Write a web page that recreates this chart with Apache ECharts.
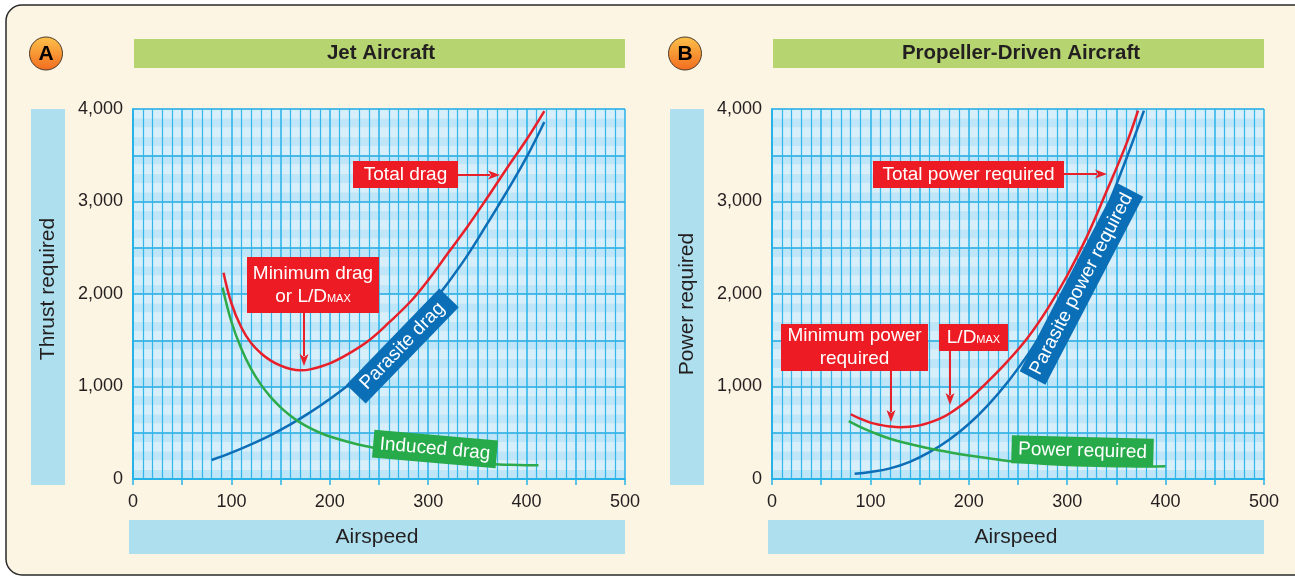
<!DOCTYPE html>
<html>
<head>
    <title>Drag and power curves</title>
    <script src="https://cdn.jsdelivr.net/npm/echarts@6/dist/echarts.min.js"></script>
    <style>
        body { margin: 0; background: #fff; }
    </style>
</head>
<body>

<div id="main" style="width: 1295px;height:577px;"></div>

<script type="text/javascript">
    // --- A: jet aircraft (thrust required vs airspeed)
    var jetTotalX = [92, 100, 110, 120, 130, 140, 150, 160, 170, 180, 200, 220, 240, 260, 283, 300, 320, 340, 360, 380, 400, 418];
    var jetTotalY = [2230, 1900, 1640, 1470, 1360, 1280, 1225, 1190, 1175, 1185, 1250, 1360, 1500, 1690, 1930, 2150, 2440, 2730, 3040, 3360, 3670, 3978];
    var jetParasiteX = [80, 100, 120, 140, 160, 180, 200, 220, 240, 260, 280, 300, 320, 340, 360, 380, 400, 418];
    var jetParasiteY = [205, 285, 375, 475, 590, 720, 865, 1025, 1200, 1390, 1610, 1850, 2120, 2420, 2760, 3110, 3480, 3860];
    var jetInducedX = [91, 100, 110, 120, 130, 140, 150, 160, 170, 180, 190, 200, 220, 240, 260, 280, 300, 320, 340, 360, 380, 400, 412];
    var jetInducedY = [2070, 1700, 1410, 1190, 1020, 885, 775, 685, 610, 550, 500, 460, 398, 348, 304, 264, 229, 200, 178, 162, 154, 150, 150];

    // --- B: propeller-driven aircraft (power required vs airspeed)
    var propTotalX = [80, 90, 100, 110, 120, 130, 140, 150, 160, 170, 180, 200, 220, 240, 260, 280, 300, 320, 340, 360, 372];
    var propTotalY = [700, 650, 610, 585, 568, 560, 565, 580, 610, 650, 705, 860, 1060, 1280, 1530, 1840, 2200, 2620, 3110, 3620, 3983];
    var propParasiteX = [84, 100, 120, 140, 160, 180, 200, 220, 240, 260, 280, 300, 320, 340, 360, 378];
    var propParasiteY = [56, 75, 115, 185, 290, 425, 595, 805, 1055, 1345, 1670, 2035, 2440, 2920, 3460, 3983];
    var propInducedX = [78, 90, 100, 120, 140, 160, 180, 200, 220, 240, 260, 280, 300, 320, 340, 360, 380, 400];
    var propInducedY = [625, 560, 515, 435, 378, 330, 290, 255, 225, 195, 178, 163, 152, 145, 140, 137, 136, 138];

    // axis ticks
    var xTickLabels = [0, 100, 200, 300, 400, 500];
    var yTickLabels = [0, 1000, 2000, 3000, 4000];

    var FONT = '"Liberation Sans", Arial, sans-serif';
    var TXT = '#231F20';
    var RED = '#E8202A', BLUE = '#0D6EB7', GREEN = '#2DAA4A';
    var GRIDLINE = '#27B2E8';

    function zip(xs, ys) {
        return xs.map(function (x, i) { return [x, ys[i]]; });
    }

    function makeX(gi) {
        return {
            gridIndex: gi, type: 'value', min: 0, max: 500, interval: 50, z: 1,
            axisLine: { show: true, lineStyle: { color: GRIDLINE, width: 2 } },
            axisTick: { show: true, length: 6, lineStyle: { color: GRIDLINE, width: 1.5 } },
            axisLabel: {
                margin: 8, color: TXT, fontSize: 18, fontFamily: FONT,
                formatter: function (v) { return xTickLabels.indexOf(v) >= 0 ? String(v) : ''; }
            },
            splitLine: { show: true, lineStyle: { color: GRIDLINE, width: 1.5 } },
            minorTick: { show: false, splitNumber: 5 },
            minorSplitLine: { show: true, lineStyle: { color: '#33B6EA', width: 1.2 } }
        };
    }
    function makeY(gi) {
        return {
            gridIndex: gi, type: 'value', min: 0, max: 4000, interval: 500, z: 1,
            axisLine: { show: true, lineStyle: { color: GRIDLINE, width: 2 } },
            axisTick: { show: false },
            axisLabel: {
                margin: 10, color: TXT, fontSize: 18, fontFamily: FONT,
                formatter: function (v) { return yTickLabels.indexOf(v) >= 0 ? v.toLocaleString('en-US') : ''; }
            },
            splitLine: { show: true, lineStyle: { color: '#1FA9E3', width: 1.5 } }
        };
    }
    // hidden axis only for the horizontal colour bands
    function makeBands(gi) {
        return {
            gridIndex: gi, type: 'value', min: 0, max: 4000, interval: 100, z: 0,
            axisLine: { show: false }, axisTick: { show: false }, axisLabel: { show: false },
            splitLine: { show: false },
            splitArea: { show: true, areaStyle: { color: ['#BEE5F8', '#D7EFFB'] } }
        };
    }
    function curve(xi, yi, data, color) {
        return {
            type: 'line', xAxisIndex: xi, yAxisIndex: yi, data: data,
            smooth: 0.4, showSymbol: false, z: 3, silent: true,
            lineStyle: { color: color, width: 2.5 }
        };
    }

    function box(o) {
        return {
            type: 'group', x: o.x, y: o.y, rotation: (o.rot || 0) * Math.PI / 180,
            children: [
                { type: 'rect', z: 20, shape: { x: -o.w / 2, y: -o.h / 2, width: o.w, height: o.h }, style: { fill: o.fill } },
                { type: 'text', z: 21, style: {
                    text: o.text, x: 0, y: o.dy || 0, align: 'center', verticalAlign: 'middle',
                    fill: '#fff', font: '19px ' + FONT, rich: o.rich
                } }
            ]
        };
    }
    function arrow(x1, y1, x2, y2) {
        var a = Math.atan2(y2 - y1, x2 - x1), L = 12, W = 4.5;
        var c = Math.cos(a), s = Math.sin(a);
        var bx = x2 - L * c, by = y2 - L * s;
        return {
            type: 'group', children: [
                { type: 'line', z: 20, shape: { x1: x1, y1: y1, x2: bx + 2 * c, y2: by + 2 * s }, style: { stroke: RED, lineWidth: 2 } },
                { type: 'polygon', z: 20, shape: { points: [[x2, y2], [bx + W * s, by - W * c], [bx + 3 * c, by + 3 * s], [bx - W * s, by + W * c]] }, style: { fill: RED } }
            ]
        };
    }
    var ldRich = {
        n: { fontSize: 19, fontFamily: FONT, fill: '#fff', lineHeight: 23 },
        s: { fontSize: 11, fontFamily: FONT, fill: '#fff', lineHeight: 23, verticalAlign: 'bottom', padding: [10, 0, 0, 0] }
    };
    var badgeFill = { type: 'linear', x: 0, y: 0, x2: 0, y2: 1, colorStops: [{ offset: 0, color: '#FDC24A' }, { offset: 1, color: '#F26B1F' }] };

    var graphics = [
        // cream panel with rounded border
        { type: 'rect', z: -10, shape: { x: 6, y: 5, width: 1330, height: 570, r: 16 },
          style: { fill: '#FDF5E3', stroke: '#2A2A2A', lineWidth: 1.5 } },

        // badges
        { type: 'circle', z: 5, shape: { cx: 46, cy: 53.5, r: 16.5 }, style: { fill: badgeFill, stroke: '#4A3A2A', lineWidth: 1 } },
        { type: 'text', z: 6, style: { text: 'A', x: 46, y: 54.5, align: 'center', verticalAlign: 'middle', fill: '#000', font: 'bold 21px ' + FONT } },
        { type: 'circle', z: 5, shape: { cx: 685, cy: 53.5, r: 16.5 }, style: { fill: badgeFill, stroke: '#4A3A2A', lineWidth: 1 } },
        { type: 'text', z: 6, style: { text: 'B', x: 685, y: 54.5, align: 'center', verticalAlign: 'middle', fill: '#000', font: 'bold 21px ' + FONT } },

        // title bars
        { type: 'rect', z: 5, shape: { x: 134, y: 39, width: 491, height: 29 }, style: { fill: '#B6D570' } },
        { type: 'text', z: 6, style: { text: 'Jet Aircraft', x: 381, y: 53.5, align: 'center', verticalAlign: 'middle', fill: TXT, font: 'bold 20.5px ' + FONT } },
        { type: 'rect', z: 5, shape: { x: 773, y: 39, width: 491, height: 29 }, style: { fill: '#B6D570' } },
        { type: 'text', z: 6, style: { text: 'Propeller-Driven Aircraft', x: 1021, y: 53.5, align: 'center', verticalAlign: 'middle', fill: TXT, font: 'bold 20.5px ' + FONT } },

        // axis name bars
        { type: 'rect', z: 5, shape: { x: 31, y: 109, width: 34, height: 376 }, style: { fill: '#AEDFEE' } },
        { type: 'text', z: 6, x: 48, y: 289, rotation: Math.PI / 2, style: { text: 'Thrust required', x: 0, y: 0, align: 'center', verticalAlign: 'middle', fill: TXT, font: '21px ' + FONT } },
        { type: 'rect', z: 5, shape: { x: 670, y: 109, width: 34, height: 376 }, style: { fill: '#AEDFEE' } },
        { type: 'text', z: 6, x: 687, y: 304, rotation: Math.PI / 2, style: { text: 'Power required', x: 0, y: 0, align: 'center', verticalAlign: 'middle', fill: TXT, font: '21px ' + FONT } },
        { type: 'rect', z: 5, shape: { x: 129, y: 520, width: 496, height: 34 }, style: { fill: '#AEDFEE' } },
        { type: 'text', z: 6, style: { text: 'Airspeed', x: 377, y: 537, align: 'center', verticalAlign: 'middle', fill: TXT, font: '21px ' + FONT } },
        { type: 'rect', z: 5, shape: { x: 768, y: 520, width: 496, height: 34 }, style: { fill: '#AEDFEE' } },
        { type: 'text', z: 6, style: { text: 'Airspeed', x: 1016, y: 537, align: 'center', verticalAlign: 'middle', fill: TXT, font: '21px ' + FONT } },

        // A annotations
        box({ x: 405.5, y: 174.5, w: 105, h: 27, fill: '#ED1C24', text: 'Total drag' }),
        arrow(458, 175, 500, 175),
        box({ x: 313, y: 285, w: 132, h: 56, fill: '#ED1C24', text: '{n|Minimum drag}\n{n|or L/D}{s|MAX}', rich: ldRich }),
        arrow(304, 313, 304, 366),
        box({ x: 402.5, y: 346, w: 134, h: 27, rot: 46, fill: '#0B6FB8', text: 'Parasite drag' }),
        box({ x: 435, y: 449, w: 124, h: 28, rot: -5, fill: '#27AA49', text: 'Induced drag' }),

        // B annotations
        box({ x: 968.5, y: 174.5, w: 191, h: 27, fill: '#ED1C24', text: 'Total power required' }),
        arrow(1064, 174, 1107, 174),
        box({ x: 854.5, y: 347.5, w: 147, h: 47, fill: '#ED1C24', text: '{n|Minimum power}\n{n|required}', rich: ldRich }),
        arrow(891, 371, 891, 422),
        box({ x: 973.5, y: 337.5, w: 69, h: 27, fill: '#ED1C24', text: '{n|L/D}{s|MAX}', rich: ldRich }),
        arrow(950, 351, 950, 405),
        box({ x: 1081.5, y: 284, w: 212, h: 29, rot: 62.5, fill: '#0B6FB8', text: 'Parasite power required' }),
        box({ x: 1082.5, y: 451, w: 142, h: 28, rot: -1.5, fill: '#27AA49', text: 'Power required' })
    ];

    var chart = echarts.init(document.getElementById('main'));
    chart.setOption({
        backgroundColor: '#fff',
        animation: false,
        grid: [
            { left: 133, top: 109, width: 492, height: 370 },
            { left: 772, top: 109, width: 492, height: 370 }
        ],
        xAxis: [makeX(0), makeX(1)],
        yAxis: [makeY(0), makeBands(0), makeY(1), makeBands(1)],
        series: [
            curve(0, 0, zip(jetParasiteX, jetParasiteY), BLUE),
            curve(0, 0, zip(jetInducedX, jetInducedY), GREEN),
            curve(0, 0, zip(jetTotalX, jetTotalY), RED),
            curve(1, 2, zip(propParasiteX, propParasiteY), BLUE),
            curve(1, 2, zip(propInducedX, propInducedY), GREEN),
            curve(1, 2, zip(propTotalX, propTotalY), RED)
        ],
        graphic: { elements: graphics }
    });
</script>
</body>
</html>
